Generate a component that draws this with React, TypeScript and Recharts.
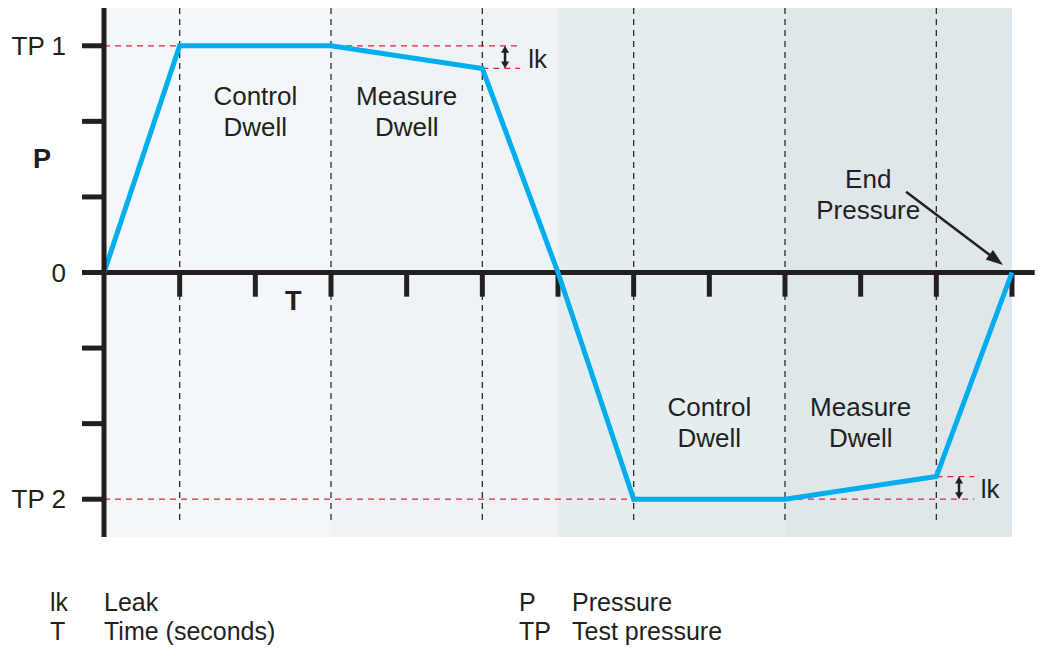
import React from "react";
import {
  ComposedChart,
  Line,
  XAxis,
  YAxis,
  ReferenceArea,
  ReferenceLine,
  ReferenceDot,
} from "recharts";

// pressure/time profile (time in steps, pressure in tick units; TP1 = 3, TP2 = -3)
const times = [0, 1, 3, 5, 6, 7, 9, 11, 12];
const pressure = [0, 3, 3, 2.7, 0, -3, -3, -2.7, 0];

const phaseEdges = [0, 3, 6, 9, 12];
const phaseFills = ["#f3f7f9", "#edf3f6", "#e6edf1", "#dfe7eb"];
const dwellMarks = [1, 3, 5, 7, 9, 11];
const timeTicks = [1, 2, 3, 4, 5, 6, 7, 8, 9, 10, 11, 12];
const pressureTicks = [-3, -2, -1, 0, 1, 2, 3];
const pressureLabels: Record<number, string> = { 3: "TP 1", 0: "0", [-3]: "TP 2" };

const phaseLabels = [
  { x: 2, y: 2.13, lines: ["Control", "Dwell"] },
  { x: 4, y: 2.13, lines: ["Measure", "Dwell"] },
  { x: 8, y: -1.98, lines: ["Control", "Dwell"] },
  { x: 10, y: -1.98, lines: ["Measure", "Dwell"] },
  { x: 10.1, y: 1.03, lines: ["End", "Pressure"] },
];

const legendLeft = [
  ["lk", "Leak"],
  ["T", "Time (seconds)"],
];
const legendRight = [
  ["P", "Pressure"],
  ["TP", "Test pressure"],
];

const data = times.map((t, i) => ({ t, p: pressure[i] }));

const INK = "#231f20";
const FONT = "'Liberation Sans', Arial, sans-serif";

const textShape =
  (lines: string[], size = 26, bold = false) =>
  (props: any) => {
    const { cx, cy } = props;
    return (
      <text
        textAnchor="middle"
        fontFamily={FONT}
        fontSize={size}
        fontWeight={bold ? "bold" : "normal"}
        fill={INK}
      >
        {lines.map((l, i) => (
          <tspan key={i} x={cx} y={cy + (i - (lines.length - 1) / 2) * 31} dy="0.35em">
            {l}
          </tspan>
        ))}
      </text>
    );
  };

const arrowShape =
  (head: number, half: number, both: boolean) =>
  (props: any) => {
    const { x1, y1, x2, y2 } = props;
    const a = Math.atan2(y2 - y1, x2 - x1);
    const tip = (x: number, y: number, ang: number) => {
      const bx = x - head * Math.cos(ang);
      const by = y - head * Math.sin(ang);
      const px = -Math.sin(ang) * half;
      const py = Math.cos(ang) * half;
      return `${x},${y} ${bx + px},${by + py} ${bx - px},${by - py}`;
    };
    const sx = both ? x1 + head * 0.8 * Math.cos(a) : x1;
    const sy = both ? y1 + head * 0.8 * Math.sin(a) : y1;
    return (
      <g>
        <line
          x1={sx}
          y1={sy}
          x2={x2 - head * 0.8 * Math.cos(a)}
          y2={y2 - head * 0.8 * Math.sin(a)}
          stroke={INK}
          strokeWidth={2.5}
        />
        <polygon points={tip(x2, y2, a)} fill={INK} />
        {both && <polygon points={tip(x1, y1, a + Math.PI)} fill={INK} />}
      </g>
    );
  };

export default function App() {
  return (
    <div style={{ position: "relative", width: 1038, height: 648, fontFamily: FONT, color: INK }}>
      <style>{"body{margin:0}"}</style>
      <ComposedChart
        width={1038}
        height={560}
        data={data}
        margin={{ top: 8, right: 26, bottom: 23, left: 0 }}
      >
        <XAxis type="number" dataKey="t" domain={[0, 12]} hide />
        <YAxis
          type="number"
          domain={[-3.5, 3.5]}
          ticks={pressureTicks}
          width={104}
          interval={0}
          tickFormatter={(v: number) => pressureLabels[v] ?? ""}
          axisLine={{ stroke: INK, strokeWidth: 5 }}
          tickLine={{ stroke: INK, strokeWidth: 5 }}
          tickSize={22}
          tickMargin={16}
          tick={{ fill: INK, fontSize: 26, fontFamily: FONT }}
        />

        {phaseFills.map((fill, i) => (
          <ReferenceArea
            key={"ph" + i}
            x1={phaseEdges[i]}
            x2={phaseEdges[i + 1]}
            y1={-3.5}
            y2={3.5}
            fill={fill}
            fillOpacity={1}
            stroke="none"
          />
        ))}

        {dwellMarks.map((x) => (
          <ReferenceLine
            key={"d" + x}
            segment={[
              { x, y: 3.5 },
              { x, y: -3.3 },
            ]}
            stroke="#2b2b2b"
            strokeWidth={1.3}
            strokeDasharray="6 5"
          />
        ))}

        {/* test pressure and leak guides */}
        <ReferenceLine segment={[{ x: 0, y: 3 }, { x: 5.5, y: 3 }]} stroke="#e3262c" strokeWidth={1.3} strokeDasharray="6 5" />
        <ReferenceLine segment={[{ x: 5, y: 2.7 }, { x: 5.5, y: 2.7 }]} stroke="#e3262c" strokeWidth={1.3} strokeDasharray="6 5" />
        <ReferenceLine segment={[{ x: 0, y: -3 }, { x: 11.5, y: -3 }]} stroke="#e3262c" strokeWidth={1.3} strokeDasharray="6 5" />
        <ReferenceLine segment={[{ x: 11, y: -2.7 }, { x: 11.5, y: -2.7 }]} stroke="#e3262c" strokeWidth={1.3} strokeDasharray="6 5" />

        {/* time axis through zero */}
        <ReferenceLine
          segment={[{ x: 0, y: 0 }, { x: 12.3, y: 0 }]}
          stroke={INK}
          strokeWidth={5}
          ifOverflow="visible"
        />
        {timeTicks.map((x) => (
          <ReferenceLine
            key={"t" + x}
            segment={[
              { x, y: 0 },
              { x, y: -0.32 },
            ]}
            stroke={INK}
            strokeWidth={5}
          />
        ))}

        <ReferenceLine segment={[{ x: 5.3, y: 3 }, { x: 5.3, y: 2.7 }]} shape={arrowShape(7, 4, true)} />
        <ReferenceLine segment={[{ x: 11.3, y: -2.7 }, { x: 11.3, y: -3 }]} shape={arrowShape(7, 4, true)} />
        <ReferenceLine
          segment={[{ x: 10.6, y: 1.07 }, { x: 11.88, y: 0.1 }]}
          shape={arrowShape(17, 6, false)}
          ifOverflow="visible"
        />

        <Line
          type="linear"
          dataKey="p"
          stroke="#00aeef"
          strokeWidth={5}
          dot={false}
          activeDot={false}
          isAnimationActive={false}
        />

        {phaseLabels.map((l, i) => (
          <ReferenceDot key={"l" + i} x={l.x} y={l.y} r={0} shape={textShape(l.lines)} />
        ))}
        <ReferenceDot x={5.73} y={2.83} r={0} shape={textShape(["lk"])} />
        <ReferenceDot x={11.71} y={-2.86} r={0} shape={textShape(["lk"])} />
        <ReferenceDot x={-0.82} y={1.51} r={0} ifOverflow="visible" shape={textShape(["P"], 27, true)} />
        <ReferenceDot x={2.5} y={-0.37} r={0} shape={textShape(["T"], 27, true)} />
      </ComposedChart>

      {[legendLeft, legendRight].map((col, c) =>
        col.map(([abbr, text], r) => (
          <div
            key={c + "-" + r}
            style={{
              position: "absolute",
              left: c === 0 ? 50 : 519,
              top: 587 + r * 29,
              fontSize: 25,
              lineHeight: "30px",
              whiteSpace: "nowrap",
            }}
          >
            <span style={{ display: "inline-block", width: c === 0 ? 54 : 53 }}>{abbr}</span>
            {text}
          </div>
        ))
      )}
    </div>
  );
}
